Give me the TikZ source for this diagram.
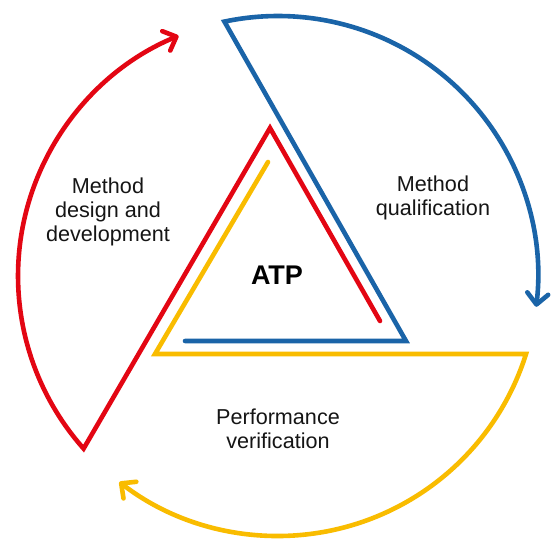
\documentclass[tikz,border=0pt]{standalone}
\usepackage{fontspec}
\setmainfont{Liberation Sans}
\usetikzlibrary{arrows.meta}
\definecolor{cred}{HTML}{E30613}
\definecolor{cblue}{HTML}{1A64A8}
\definecolor{cyellow}{HTML}{F9BC00}
\definecolor{ctext}{HTML}{151515}
\tikzset{
  loop/.style={line width=4.6pt, line join=miter, line cap=round},
  tipend/.style={-{Straight Barb[length=11pt,width=21pt,round]}},
  lbl/.style={align=center, text=ctext, font=\fontsize{21.6}{24}\selectfont, inner sep=0pt},
}
\begin{document}
\begin{tikzpicture}[x=1pt,y=1pt]
\useasboundingbox (0,0) rectangle (552,552);
\fill[white] (0,0) rectangle (552,552);
% red
\coordinate (r1) at (380,231);
\coordinate (r2) at (270,424);
\coordinate (r3) at (83.6,103.4);
\draw[loop, tipend, cred] (r1) -- (r2) -- (r3) arc[start angle=221.6, end angle=112.5, radius=260];
% blue
\coordinate (b1) at (185,211);
\coordinate (b2) at (406,211);
\coordinate (b3) at (224.4,530.4);
\draw[loop, tipend, cblue] (b1) -- (b2) -- (b3) arc[start angle=101.9, end angle=-6.8, radius=260];
% yellow
\coordinate (y1) at (268,390);
\coordinate (y2) at (155,198);
\coordinate (y3) at (526,198);
\draw[loop, tipend, cyellow] (y1) -- (y2) -- (y3) arc[start angle=-17.46, end angle=-127.6, radius=260];
% labels
\node[lbl] (design) at (108,340) {Method\\design and\\development};
\node[lbl] (qual) at (433,354) {Method\\qualification};
\node[lbl] (perf) at (278,123) {Performance\\verification};
\node[text=black, font=\fontsize{27}{30}\selectfont\bfseries, inner sep=0pt] (atp) at (277,277) {ATP};
\end{tikzpicture}
\end{document}
